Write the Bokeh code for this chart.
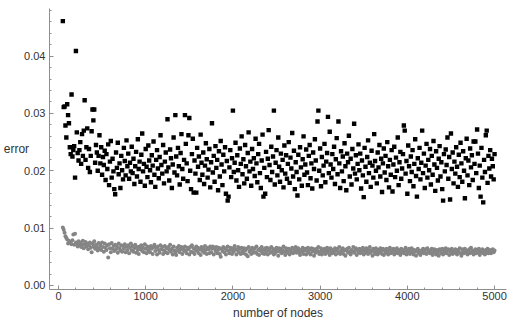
from bokeh.plotting import figure
from bokeh.models import Range1d, FixedTicker, NumeralTickFormatter, ColumnDataSource
from bokeh.embed import file_html
from bokeh.resources import INLINE

nodes = list(range(50, 5001, 10))

upper_error = [
    0.0461, 0.0311, 0.0312, 0.0279, 0.0258, 0.0316, 0.0297, 0.0283, 0.0241, 0.0229,
    0.0333, 0.0225, 0.0236, 0.0243, 0.0188, 0.0409, 0.0267, 0.0231, 0.0218, 0.0236,
    0.0250, 0.0212, 0.0264, 0.0226, 0.0270, 0.0323, 0.0219, 0.0241, 0.0274, 0.0205,
    0.0238, 0.0198, 0.0226, 0.0269, 0.0307, 0.0288, 0.0307, 0.0214, 0.0245, 0.0232,
    0.0200, 0.0226, 0.0262, 0.0213, 0.0241, 0.0193, 0.0224, 0.0210, 0.0235, 0.0184,
    0.0229, 0.0203, 0.0246, 0.0175, 0.0216, 0.0252, 0.0188, 0.0221, 0.0199, 0.0168,
    0.0159, 0.0232, 0.0205, 0.0249, 0.0194, 0.0213, 0.0170, 0.0226, 0.0201, 0.0185,
    0.0240, 0.0217, 0.0192, 0.0253, 0.0208, 0.0230, 0.0186, 0.0214, 0.0199, 0.0242,
    0.0196, 0.0221, 0.0177, 0.0208, 0.0233, 0.0190, 0.0255, 0.0203, 0.0216, 0.0181,
    0.0228, 0.0265, 0.0199, 0.0212, 0.0174, 0.0238, 0.0207, 0.0189, 0.0244, 0.0218,
    0.0201, 0.0180, 0.0227, 0.0209, 0.0251, 0.0193, 0.0172, 0.0219, 0.0236, 0.0204,
    0.0187, 0.0224, 0.0262, 0.0210, 0.0195, 0.0245, 0.0178, 0.0216, 0.0232, 0.0199,
    0.0290, 0.0206, 0.0183, 0.0237, 0.0222, 0.0170, 0.0211, 0.0258, 0.0197, 0.0297,
    0.0225, 0.0192, 0.0240, 0.0208, 0.0176, 0.0231, 0.0264, 0.0203, 0.0186, 0.0219,
    0.0297, 0.0247, 0.0213, 0.0182, 0.0262, 0.0292, 0.0200, 0.0168, 0.0229, 0.0256,
    0.0162, 0.0218, 0.0195, 0.0162, 0.0240, 0.0207, 0.0225, 0.0184, 0.0263, 0.0214,
    0.0193, 0.0232, 0.0177, 0.0209, 0.0248, 0.0220, 0.0188, 0.0202, 0.0238, 0.0171,
    0.0215, 0.0283, 0.0197, 0.0226, 0.0181, 0.0243, 0.0205, 0.0219, 0.0166, 0.0234,
    0.0190, 0.0252, 0.0211, 0.0175, 0.0228, 0.0199, 0.0241, 0.0160, 0.0217, 0.0148,
    0.0155, 0.0206, 0.0236, 0.0189, 0.0222, 0.0305, 0.0198, 0.0214, 0.0249, 0.0183,
    0.0227, 0.0201, 0.0172, 0.0239, 0.0212, 0.0260, 0.0194, 0.0220, 0.0178, 0.0245,
    0.0208, 0.0186, 0.0231, 0.0267, 0.0199, 0.0216, 0.0174, 0.0238, 0.0203, 0.0222,
    0.0191, 0.0256, 0.0213, 0.0180, 0.0229, 0.0247, 0.0196, 0.0170, 0.0218, 0.0263,
    0.0155, 0.0205, 0.0160, 0.0233, 0.0189, 0.0221, 0.0271, 0.0210, 0.0184, 0.0242,
    0.0198, 0.0225, 0.0305, 0.0176, 0.0214, 0.0236, 0.0192, 0.0258, 0.0207, 0.0181,
    0.0230, 0.0201, 0.0219, 0.0171, 0.0244, 0.0195, 0.0227, 0.0186, 0.0212, 0.0250,
    0.0179, 0.0223, 0.0204, 0.0266, 0.0190, 0.0235, 0.0168, 0.0215, 0.0198, 0.0157,
    0.0228, 0.0185, 0.0241, 0.0206, 0.0174, 0.0220, 0.0260, 0.0193, 0.0211, 0.0237,
    0.0197, 0.0175, 0.0226, 0.0245, 0.0187, 0.0213, 0.0169, 0.0232, 0.0203, 0.0255,
    0.0218, 0.0183, 0.0286, 0.0305, 0.0200, 0.0239, 0.0173, 0.0224, 0.0192, 0.0209,
    0.0247, 0.0180, 0.0216, 0.0231, 0.0294, 0.0196, 0.0268, 0.0211, 0.0188, 0.0229,
    0.0203, 0.0242, 0.0177, 0.0220, 0.0257, 0.0194, 0.0286, 0.0213, 0.0170, 0.0234,
    0.0199, 0.0225, 0.0182, 0.0248, 0.0208, 0.0166, 0.0230, 0.0215, 0.0261, 0.0190,
    0.0221, 0.0176, 0.0238, 0.0204, 0.0282, 0.0195, 0.0227, 0.0185, 0.0212, 0.0246,
    0.0201, 0.0230, 0.0169, 0.0218, 0.0192, 0.0154, 0.0240, 0.0207, 0.0181, 0.0224,
    0.0253, 0.0196, 0.0214, 0.0172, 0.0235, 0.0209, 0.0188, 0.0264, 0.0217, 0.0200,
    0.0178, 0.0232, 0.0206, 0.0245, 0.0190, 0.0221, 0.0163, 0.0213, 0.0239, 0.0197,
    0.0226, 0.0184, 0.0250, 0.0208, 0.0171, 0.0219, 0.0193, 0.0236, 0.0164, 0.0211,
    0.0242, 0.0189, 0.0223, 0.0200, 0.0258, 0.0175, 0.0215, 0.0233, 0.0186, 0.0204,
    0.0229, 0.0279, 0.0270, 0.0195, 0.0217, 0.0160, 0.0244, 0.0208, 0.0182, 0.0225,
    0.0198, 0.0236, 0.0173, 0.0212, 0.0255, 0.0191, 0.0155, 0.0222, 0.0203, 0.0240,
    0.0185, 0.0214, 0.0270, 0.0196, 0.0230, 0.0170, 0.0209, 0.0247, 0.0188, 0.0219,
    0.0201, 0.0238, 0.0176, 0.0226, 0.0193, 0.0252, 0.0211, 0.0165, 0.0234, 0.0205,
    0.0183, 0.0221, 0.0243, 0.0190, 0.0215, 0.0168, 0.0148, 0.0229, 0.0199, 0.0237,
    0.0210, 0.0258, 0.0186, 0.0224, 0.0150, 0.0265, 0.0203, 0.0232, 0.0178, 0.0216,
    0.0195, 0.0241, 0.0207, 0.0172, 0.0228, 0.0189, 0.0249, 0.0213, 0.0181, 0.0234,
    0.0200, 0.0152, 0.0222, 0.0256, 0.0192, 0.0218, 0.0175, 0.0239, 0.0206, 0.0227,
    0.0184, 0.0251, 0.0212, 0.0251, 0.0196, 0.0272, 0.0230, 0.0170, 0.0209, 0.0155,
    0.0240, 0.0188, 0.0145, 0.0219, 0.0198, 0.0262, 0.0270, 0.0179, 0.0226, 0.0204,
    0.0236, 0.0190, 0.0221, 0.0208, 0.0185, 0.0229,
]

lower_error = [
    0.0101, 0.0097, 0.0092, 0.0086, 0.0083, 0.0080, 0.0073, 0.0078, 0.0074, 0.0076,
    0.0072, 0.0079, 0.0089, 0.0071, 0.0090, 0.0075, 0.0073, 0.0068, 0.0077, 0.0070,
    0.0075, 0.0067, 0.0072, 0.0078, 0.0065, 0.0071, 0.0076, 0.0068, 0.0073, 0.0063,
    0.0070, 0.0075, 0.0066, 0.0058, 0.0073, 0.0068, 0.0077, 0.0064, 0.0071, 0.0067,
    0.0061, 0.0074, 0.0065, 0.0070, 0.0062, 0.0075, 0.0067, 0.0059, 0.0073, 0.0066,
    0.0062, 0.0070, 0.0049, 0.0072, 0.0065, 0.0058, 0.0074, 0.0064, 0.0069, 0.0060,
    0.0071, 0.0063, 0.0068, 0.0057, 0.0073, 0.0065, 0.0061, 0.0070, 0.0059, 0.0069,
    0.0064, 0.0072, 0.0058, 0.0068, 0.0062, 0.0070, 0.0056, 0.0066, 0.0073, 0.0061,
    0.0069, 0.0059, 0.0065, 0.0071, 0.0057, 0.0067, 0.0062, 0.0055, 0.0068, 0.0063,
    0.0070, 0.0060, 0.0066, 0.0058, 0.0072, 0.0064, 0.0056, 0.0068, 0.0061, 0.0066,
    0.0058, 0.0069, 0.0064, 0.0055, 0.0067, 0.0071, 0.0060, 0.0066, 0.0054, 0.0068,
    0.0062, 0.0057, 0.0070, 0.0063, 0.0067, 0.0055, 0.0061, 0.0069, 0.0058, 0.0065,
    0.0056, 0.0067, 0.0062, 0.0071, 0.0059, 0.0064, 0.0054, 0.0068, 0.0061, 0.0057,
    0.0053, 0.0066, 0.0061, 0.0069, 0.0058, 0.0063, 0.0067, 0.0055, 0.0064, 0.0060,
    0.0068, 0.0061, 0.0056, 0.0066, 0.0063, 0.0054, 0.0067, 0.0059, 0.0070, 0.0058,
    0.0065, 0.0055, 0.0062, 0.0068, 0.0060, 0.0066, 0.0056, 0.0063, 0.0053, 0.0067,
    0.0060, 0.0065, 0.0057, 0.0069, 0.0062, 0.0055, 0.0066, 0.0063, 0.0056, 0.0068,
    0.0058, 0.0064, 0.0068, 0.0054, 0.0065, 0.0060, 0.0067, 0.0056, 0.0062, 0.0066,
    0.0055, 0.0050, 0.0064, 0.0060, 0.0067, 0.0058, 0.0065, 0.0054, 0.0062, 0.0068,
    0.0060, 0.0056, 0.0066, 0.0062, 0.0055, 0.0065, 0.0059, 0.0069, 0.0063, 0.0054,
    0.0062, 0.0067, 0.0058, 0.0064, 0.0055, 0.0066, 0.0060, 0.0056, 0.0065, 0.0061,
    0.0054, 0.0064, 0.0051, 0.0067, 0.0059, 0.0062, 0.0055, 0.0066, 0.0060, 0.0057,
    0.0065, 0.0058, 0.0068, 0.0055, 0.0062, 0.0053, 0.0064, 0.0060, 0.0067, 0.0056,
    0.0062, 0.0055, 0.0065, 0.0059, 0.0066, 0.0054, 0.0061, 0.0064, 0.0057, 0.0067,
    0.0059, 0.0064, 0.0054, 0.0062, 0.0057, 0.0066, 0.0060, 0.0052, 0.0065, 0.0059,
    0.0064, 0.0056, 0.0062, 0.0068, 0.0059, 0.0053, 0.0065, 0.0060, 0.0057, 0.0064,
    0.0054, 0.0062, 0.0059, 0.0066, 0.0056, 0.0064, 0.0060, 0.0067, 0.0057, 0.0062,
    0.0065, 0.0057, 0.0053, 0.0062, 0.0059, 0.0066, 0.0055, 0.0061, 0.0064, 0.0054,
    0.0060, 0.0066, 0.0057, 0.0063, 0.0054, 0.0065, 0.0059, 0.0064, 0.0052, 0.0062,
    0.0057, 0.0064, 0.0060, 0.0067, 0.0055, 0.0059, 0.0065, 0.0054, 0.0062, 0.0059,
    0.0064, 0.0055, 0.0061, 0.0066, 0.0057, 0.0062, 0.0053, 0.0065, 0.0059, 0.0056,
    0.0062, 0.0059, 0.0065, 0.0054, 0.0061, 0.0064, 0.0057, 0.0067, 0.0055, 0.0061,
    0.0059, 0.0065, 0.0055, 0.0062, 0.0052, 0.0061, 0.0064, 0.0057, 0.0066, 0.0059,
    0.0054, 0.0062, 0.0059, 0.0067, 0.0057, 0.0061, 0.0065, 0.0053, 0.0062, 0.0058,
    0.0064, 0.0056, 0.0061, 0.0059, 0.0066, 0.0054, 0.0062, 0.0057, 0.0065, 0.0060,
    0.0055, 0.0062, 0.0067, 0.0057, 0.0061, 0.0052, 0.0064, 0.0059, 0.0055, 0.0065,
    0.0059, 0.0054, 0.0062, 0.0057, 0.0065, 0.0060, 0.0055, 0.0064, 0.0053, 0.0061,
    0.0057, 0.0064, 0.0059, 0.0054, 0.0062, 0.0066, 0.0056, 0.0061, 0.0059, 0.0064,
    0.0054, 0.0061, 0.0057, 0.0065, 0.0056, 0.0062, 0.0059, 0.0053, 0.0064, 0.0058,
    0.0062, 0.0056, 0.0060, 0.0066, 0.0054, 0.0061, 0.0058, 0.0064, 0.0055, 0.0060,
    0.0065, 0.0058, 0.0054, 0.0062, 0.0059, 0.0052, 0.0061, 0.0064, 0.0056, 0.0060,
    0.0053, 0.0061, 0.0058, 0.0064, 0.0056, 0.0060, 0.0063, 0.0055, 0.0065, 0.0058,
    0.0061, 0.0056, 0.0060, 0.0064, 0.0053, 0.0058, 0.0063, 0.0059, 0.0054, 0.0062,
    0.0058, 0.0052, 0.0063, 0.0060, 0.0056, 0.0064, 0.0054, 0.0061, 0.0058, 0.0065,
    0.0056, 0.0060, 0.0063, 0.0053, 0.0061, 0.0058, 0.0064, 0.0055, 0.0060, 0.0057,
    0.0063, 0.0058, 0.0054, 0.0062, 0.0059, 0.0065, 0.0056, 0.0052, 0.0063, 0.0059,
    0.0056, 0.0064, 0.0058, 0.0061, 0.0054, 0.0060, 0.0063, 0.0056, 0.0066, 0.0058,
    0.0061, 0.0054, 0.0060, 0.0063, 0.0056, 0.0062, 0.0058, 0.0064, 0.0053, 0.0060,
    0.0058, 0.0063, 0.0056, 0.0060, 0.0054, 0.0062, 0.0058, 0.0064, 0.0056, 0.0060,
    0.0062, 0.0056, 0.0060, 0.0063, 0.0058, 0.0061,
]

x_ticks = [0, 1000, 2000, 3000, 4000, 5000]
y_ticks = [0.00, 0.01, 0.02, 0.03, 0.04]

FONT = "Liberation Sans"

p = figure(
    width=507, height=327,
    x_range=Range1d(-103, 5137), y_range=Range1d(-0.0007, 0.0483),
    output_backend="svg", toolbar_location=None,
    min_border_left=48, min_border_right=1, min_border_top=8, min_border_bottom=38,
    background_fill_color="white", border_fill_color="white",
)
p.outline_line_color = None
p.grid.visible = False

src = ColumnDataSource(dict(x=nodes, up=upper_error, lo=lower_error))
p.scatter("x", "lo", source=src, marker="circle", size=4.0,
          fill_color="#858585", line_color=None)
p.scatter("x", "up", source=src, marker="square", size=4.4,
          fill_color="black", line_color=None)

for ax in (p.xaxis[0], p.yaxis[0]):
    ax.axis_line_color = "#8f8f8f"
    ax.major_tick_line_color = "#8f8f8f"
    ax.minor_tick_line_color = "#8f8f8f"
    ax.major_tick_in = 4
    ax.major_tick_out = 0
    ax.minor_tick_in = 2
    ax.minor_tick_out = 0
    ax.major_label_text_font = FONT
    ax.major_label_text_font_size = "11px"
    ax.major_label_text_color = "#333333"
    ax.axis_label_text_font = FONT
    ax.axis_label_text_font_size = "12px"
    ax.axis_label_text_font_style = "normal"
    ax.axis_label_text_color = "#333333"

p.xaxis.major_label_standoff = 2
p.yaxis.major_label_standoff = 4

p.xaxis.ticker = FixedTicker(ticks=x_ticks, minor_ticks=list(range(0, 5001, 200)))
p.yaxis.ticker = FixedTicker(ticks=y_ticks, minor_ticks=[i * 0.002 for i in range(0, 25)])
p.yaxis.formatter = NumeralTickFormatter(format="0.00")

p.xaxis.axis_label = "number of nodes"
p.xaxis.axis_label_standoff = 3

yax = p.yaxis[0]
yax.axis_label = "error"
if "axis_label_orientation" in yax.properties():
    yax.axis_label_orientation = "horizontal"
    yax.axis_label_standoff = -8
else:
    yax.axis_label_standoff = 2

open("out.html", "w").write(file_html(p, INLINE))
